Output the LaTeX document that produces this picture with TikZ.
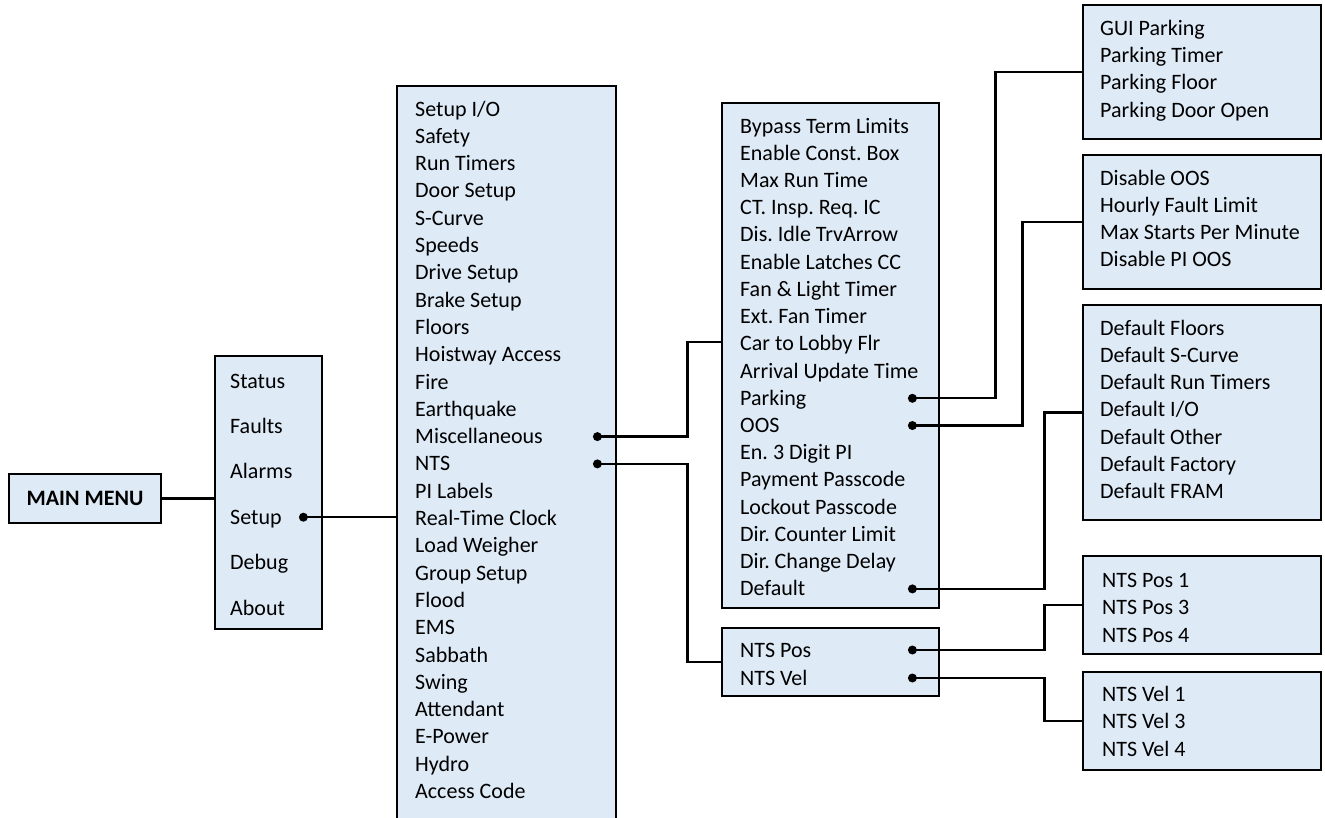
\documentclass[tikz,border=0pt]{standalone}
\usepackage{fontspec}
\setmainfont{Carlito}
\usetikzlibrary{calc}
\frenchspacing

\definecolor{menufill}{RGB}{222,234,246}

\tikzset{
  menubox/.style={draw, line width=2.8pt, fill=menufill, inner sep=0pt},
  item/.style={anchor=west, inner sep=0pt, text height=19pt, text depth=5pt,
    font=\fontsize{22}{26}\selectfont},
  link/.style={line width=2.3pt}
}

\begin{document}
\begin{tikzpicture}[x=1pt, y=-1pt]
  \useasboundingbox (0,0) rectangle (1325,817);

  % the boxes
  \node (mainbox) [menubox, minimum width=152pt, minimum height=49pt,
    font=\fontsize{22}{26}\selectfont\bfseries] at (85,498.5) {MAIN MENU};
  \node (topbox) [menubox, minimum width=107pt, minimum height=273pt] at (268.5,492.5) {};
  \node (setupbox) [menubox, minimum width=219pt, minimum height=744pt] at (506.5,458) {};
  \node (miscbox) [menubox, minimum width=217pt, minimum height=505pt] at (830.5,355.5) {};
  \node (ntsbox) [menubox, minimum width=217pt, minimum height=68pt] at (830.5,662) {};
  \node (parkbox) [menubox, minimum width=238pt, minimum height=134pt] at (1202,72) {};
  \node (oosbox) [menubox, minimum width=238pt, minimum height=134pt] at (1202,222) {};
  \node (defbox) [menubox, minimum width=238pt, minimum height=215pt] at (1202,412.5) {};
  \node (npbox) [menubox, minimum width=238pt, minimum height=98pt] at (1202,605) {};
  \node (nvbox) [menubox, minimum width=238pt, minimum height=98pt] at (1202,721) {};

  % the menu items
  \foreach \t [count=\i] in {Status, Faults, Alarms, Setup, Debug, About}
    \node (top\i) [item] at (230,{381+45.4*(\i-1)}) {\t};
  \foreach \t [count=\i] in {Setup I/O, Safety, Run Timers, Door Setup, S-Curve,
      Speeds, Drive Setup, Brake Setup, Floors, Hoistway Access, Fire, Earthquake,
      Miscellaneous, NTS, PI Labels, Real-Time Clock, Load Weigher, Group Setup,
      Flood, EMS, Sabbath, Swing, Attendant, E-Power, Hydro, Access Code}
    \node (set\i) [item] at (415,{109+27.3*(\i-1)}) {\t};
  \foreach \t [count=\i] in {Bypass Term Limits, Enable Const. Box, Max Run Time,
      CT. Insp. Req. IC, Dis. Idle TrvArrow, Enable Latches CC, Fan \& Light Timer,
      Ext. Fan Timer, Car to Lobby Flr, Arrival Update Time, Parking, OOS,
      En. 3 Digit PI, Payment Passcode, Lockout Passcode, Dir. Counter Limit,
      Dir. Change Delay, Default}
    \node (misc\i) [item] at (740,{126+27.23*(\i-1)}) {\t};
  \foreach \t [count=\i] in {NTS Pos, NTS Vel}
    \node (nts\i) [item] at (740,{650+28*(\i-1)}) {\t};
  \foreach \t [count=\i] in {GUI Parking, Parking Timer, Parking Floor, Parking Door Open}
    \node (park\i) [item] at (1100,{28+27.4*(\i-1)}) {\t};
  \foreach \t [count=\i] in {Disable OOS, Hourly Fault Limit, Max Starts Per Minute, Disable PI OOS}
    \node (oos\i) [item] at (1100,{178+27.3*(\i-1)}) {\t};
  \foreach \t [count=\i] in {Default Floors, Default S-Curve, Default Run Timers,
      Default I/O, Default Other, Default Factory, Default FRAM}
    \node (def\i) [item] at (1100,{328+27.3*(\i-1)}) {\t};
  \foreach \t [count=\i] in {NTS Pos 1, NTS Pos 3, NTS Pos 4}
    \node (npos\i) [item] at (1102,{580+27.5*(\i-1)}) {\t};
  \foreach \t [count=\i] in {NTS Vel 1, NTS Vel 3, NTS Vel 4}
    \node (nvel\i) [item] at (1102,{694+27.5*(\i-1)}) {\t};

  % dots
  \coordinate (dsetup) at ($(top4 -| topbox.east)+(-20,0)$);
  \coordinate (dmisc) at ($(set13 -| setupbox.east)+(-20,0)$);
  \coordinate (dnts) at ($(set14 -| setupbox.east)+(-20,0)$);
  \coordinate (dpark) at ($(misc11 -| miscbox.east)+(-28,0)$);
  \coordinate (doos) at ($(misc12 -| miscbox.east)+(-28,0)$);
  \coordinate (ddef) at ($(misc18 -| miscbox.east)+(-28,0)$);
  \coordinate (dnpos) at ($(nts1 -| ntsbox.east)+(-28,0)$);
  \coordinate (dnvel) at ($(nts2 -| ntsbox.east)+(-28,0)$);

  % connectors
  \draw [link] (mainbox.east) -- (mainbox.east -| topbox.west);
  \draw [link] (dsetup) -- (dsetup -| setupbox.west);
  \draw [link] (dmisc) -- ++(90,0) |- ([yshift=13.5pt]miscbox.west);
  \draw [link] (dnts) -- ++(90,0) |- (ntsbox.west);
  \draw [link] (dpark) -- ++(83,0) |- (parkbox.west);
  \draw [link] (doos) -- ++(110,0) |- (oosbox.west);
  \draw [link] (ddef) -- ++(132,0) |- (defbox.west);
  \draw [link] (dnpos) -- ++(132,0) |- (npbox.west);
  \draw [link] (dnvel) -- ++(132,0) |- (nvbox.west);
  \foreach \d in {dsetup, dmisc, dnts, dpark, doos, ddef, dnpos, dnvel}
    \fill (\d) circle (4.5pt);
\end{tikzpicture}
\end{document}
